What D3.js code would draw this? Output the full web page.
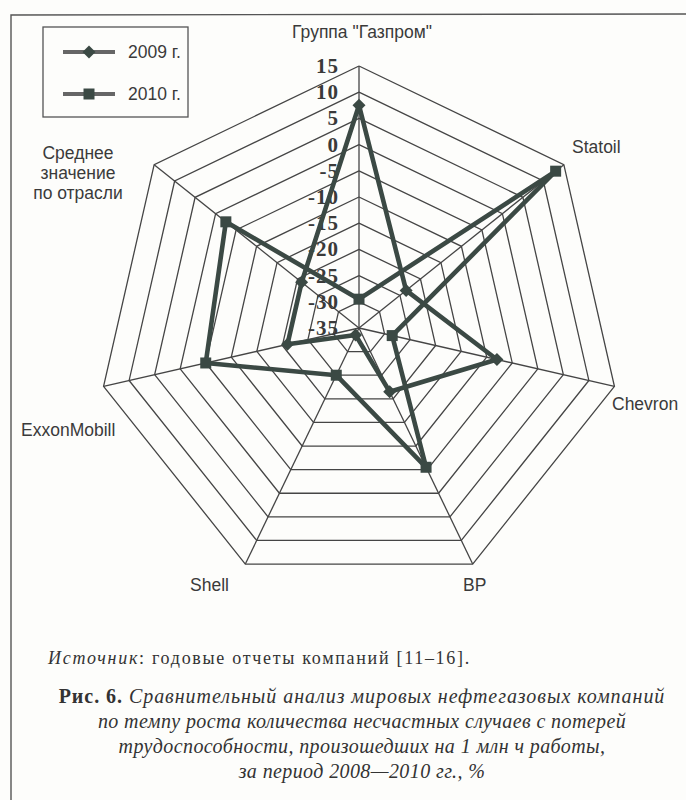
<!DOCTYPE html>
<html lang="ru">
<head>
<meta charset="UTF-8">
<title>Рис. 6</title>
<style>
  body { margin: 0; background: #fdfdfb; }
  svg { display: block; }
</style>
</head>
<body>
<div id="chart"></div>
<script src="https://d3js.org/d3.v7.min.js"></script>
<script>
// categories clockwise from top
const categories = ['Группа "Газпром"', 'Statoil', 'Chevron', 'BP', 'Shell', 'ExxonMobill', 'Среднее значение по отрасли'];
const values2009 = [7.5, -23.5, -8, -21.5, -33.5, -21, -21];
const values2010 = [-29.5, 13, -28.5, -5.5, -25, -5, -2.5];
const ticks = [-35, -30, -25, -20, -15, -10, -5, 0, 5, 10, 15];
const seriesNames = ['2009 г.', '2010 г.'];

const width = 686, height = 800;
const cx = 359, cy = 328, R = 262;
const ink = "#3b4944";
const gridColor = "#454545";

const svg = d3.select("#chart").append("svg")
    .attr("width", width)
    .attr("height", height);

// frame (scanned chart border)
svg.append("path")
    .attr("d", `M11,800 L11,15 L686,14`)
    .attr("fill", "none")
    .attr("stroke", "#555")
    .attr("stroke-width", 1.4);

const r = d3.scaleLinear().domain([-35, 15]).range([0, R]);
const angle = d3.scalePoint().domain(d3.range(categories.length + 1)).range([0, 2 * Math.PI]);
const pt = (i, v) => {
    const a = angle(i % categories.length) - Math.PI / 2;
    return [cx + r(v) * Math.cos(a), cy + r(v) * Math.sin(a)];
};

// rings
const g = svg.append("g");
ticks.slice(1).forEach(t => {
    g.append("path")
        .attr("d", d3.line()(d3.range(categories.length + 1).map(i => pt(i, t))))
        .attr("fill", "none")
        .attr("stroke", gridColor)
        .attr("stroke-width", 1.3);
});
// spokes
categories.forEach((c, i) => {
    const [x, y] = pt(i, 15);
    g.append("line")
        .attr("x1", cx).attr("y1", cy)
        .attr("x2", x).attr("y2", y)
        .attr("stroke", gridColor)
        .attr("stroke-width", 1.3);
});

// tick labels
svg.selectAll(".tick").data(ticks).enter().append("text")
    .attr("x", cx - 20)
    .attr("y", d => cy - r(d) + 7)
    .attr("text-anchor", "end")
    .attr("font-family", "Liberation Serif, serif")
    .attr("font-weight", "bold")
    .attr("font-size", 21)
    .attr("letter-spacing", 1)
    .attr("fill", "#3a3a3a")
    .text(d => String(d));

// series
const diamond = s => `M0,${-s}L${s},0L0,${s}L${-s},0Z`;
const square = s => `M${-s},${-s}H${s}V${s}H${-s}Z`;
const series = [
    { name: seriesNames[0], values: values2009, marker: diamond(6.5) },
    { name: seriesNames[1], values: values2010, marker: square(5.5) }
];
series.forEach(s => {
    const pts = s.values.map((v, i) => pt(i, v));
    svg.append("path")
        .attr("d", d3.line()(pts.concat([pts[0]])))
        .attr("fill", "none")
        .attr("stroke", ink)
        .attr("stroke-width", 4.6)
        .attr("stroke-linejoin", "round");
    svg.selectAll(null).data(pts).enter().append("path")
        .attr("transform", d => `translate(${d[0]},${d[1]})`)
        .attr("d", s.marker)
        .attr("fill", ink);
});

// category labels
const labelFont = "Liberation Sans, Arial, sans-serif";
const labelSize = 17.5;
const catLabels = [
    { lines: ['Группа "Газпром"'], x: 362, y: 38, anchor: "middle" },
    { lines: ['Statoil'], x: 572, y: 153, anchor: "start" },
    { lines: ['Chevron'], x: 612, y: 410, anchor: "start" },
    { lines: ['BP'], x: 463, y: 591, anchor: "start" },
    { lines: ['Shell'], x: 190, y: 591, anchor: "start" },
    { lines: ['ExxonMobill'], x: 21, y: 436, anchor: "start" },
    { lines: ['Среднее', 'значение', 'по отрасли'], x: 78, y: 159, anchor: "middle" }
];
catLabels.forEach(l => {
    const t = svg.append("text")
        .attr("font-family", labelFont)
        .attr("font-size", labelSize)
        .attr("fill", "#3a3a3a")
        .attr("text-anchor", l.anchor);
    l.lines.forEach((ln, k) => {
        t.append("tspan").attr("x", l.x).attr("y", l.y + k * 20).text(ln);
    });
});

// legend
const lg = svg.append("g");
lg.append("rect")
    .attr("x", 43).attr("y", 27).attr("width", 145).attr("height", 90)
    .attr("fill", "none").attr("stroke", "#555").attr("stroke-width", 1.3);
series.forEach((s, i) => {
    const y = 52 + i * 42;
    lg.append("line").attr("x1", 63).attr("x2", 115).attr("y1", y).attr("y2", y)
        .attr("stroke", "#666").attr("stroke-width", 4);
    lg.append("path").attr("transform", `translate(89,${y})`).attr("d", s.marker).attr("fill", ink);
    lg.append("text").attr("x", 128).attr("y", y + 6)
        .attr("font-family", labelFont).attr("font-size", labelSize).attr("fill", "#3a3a3a")
        .text(s.name);
});

// source and caption
const serif = "Liberation Serif, DejaVu Serif, serif";
const src = svg.append("text").attr("x", 48).attr("y", 664)
    .attr("font-family", serif).attr("font-size", 18).attr("letter-spacing", 1.7).attr("fill", "#333");
src.append("tspan").attr("font-style", "italic").text("Источник");
src.append("tspan").text(": годовые отчеты компаний [11–16].");

const cap = svg.append("text").attr("font-family", serif).attr("font-size", 20).attr("fill", "#333")
    .attr("letter-spacing", 0.4)
    .attr("text-anchor", "middle");
const capLines = [
    "по темпу роста количества несчастных случаев с потерей",
    "трудоспособности, произошедших на 1 млн ч работы,",
    "за период 2008—2010 гг., %"
];
const l1 = cap.append("tspan").attr("x", 362).attr("y", 703).attr("letter-spacing", 0.95);
l1.append("tspan").attr("font-weight", "bold").text("Рис. 6. ");
l1.append("tspan").attr("font-style", "italic").text("Сравнительный анализ мировых нефтегазовых компаний");
capLines.forEach((ln, k) => {
    cap.append("tspan").attr("x", 362).attr("y", 728 + k * 25)
        .attr("font-style", "italic").text(ln);
});
</script>
</body>
</html>
